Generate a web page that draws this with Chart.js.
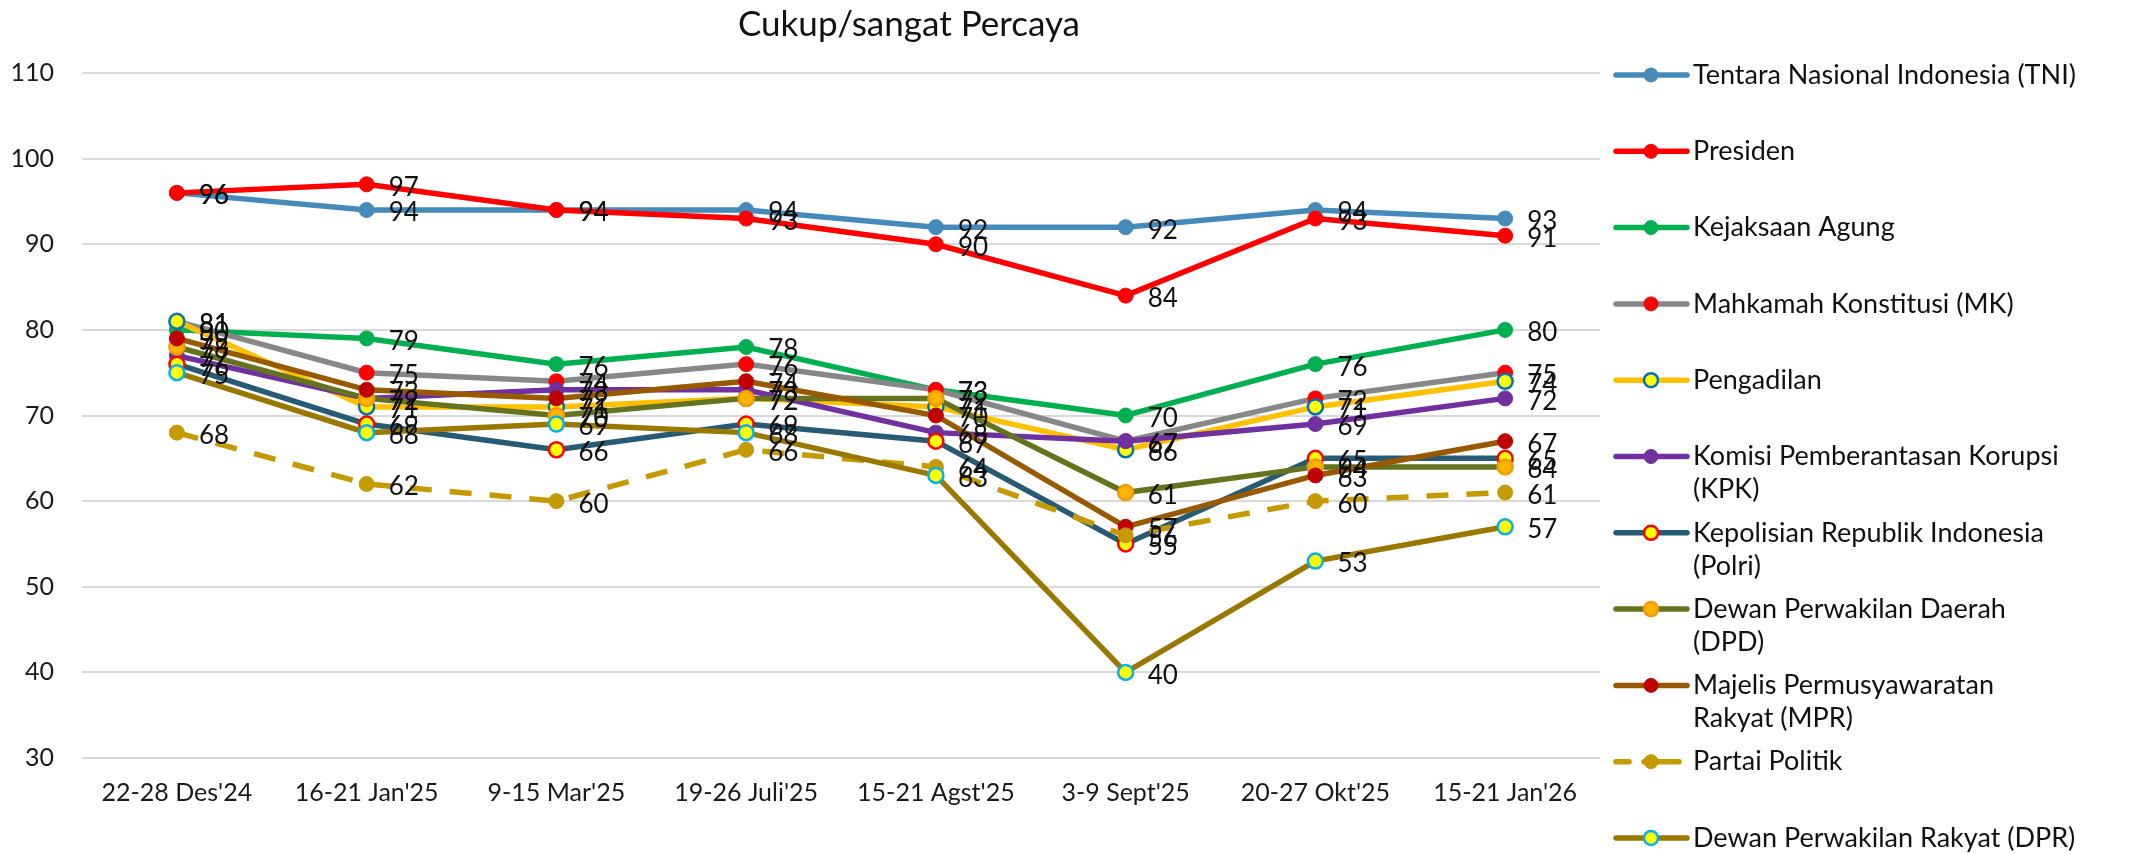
<!DOCTYPE html>
<html>
<head>
<meta charset="utf-8">
<script src="https://cdn.jsdelivr.net/npm/chart.js@4.4.1/dist/chart.umd.min.js"></script>
<style>
  html, body { margin: 0; padding: 0; background: #fff; }
  #wrap { width: 2133px; height: 854px; }
</style>
</head>
<body>
<div id="wrap"><canvas id="line" width="2133" height="854"></canvas></div>
<script>
const chartTitle = "Cukup/sangat Percaya";
const periods = ["22-28 Des'24", "16-21 Jan'25", "9-15 Mar'25", "19-26 Juli'25", "15-21 Agst'25", "3-9 Sept'25", "20-27 Okt'25", "15-21 Jan'26"];
const yMin = 30;
const yMax = 110;
const yStep = 10;

const tni        = [96, 94, 94, 94, 92, 92, 94, 93];
const presiden   = [96, 97, 94, 93, 90, 84, 93, 91];
const kejaksaan  = [80, 79, 76, 78, 73, 70, 76, 80];
const mk         = [81, 75, 74, 76, 73, 67, 72, 75];
const pengadilan = [81, 71, 71, 72, 71, 66, 71, 74];
const kpk        = [77, 72, 73, 73, 68, 67, 69, 72];
const polri      = [76, 69, 66, 69, 67, 55, 65, 65];
const dpd        = [78, 72, 70, 72, 72, 61, 64, 64];
const mpr        = [79, 73, 72, 74, 70, 57, 63, 67];
const partai     = [68, 62, 60, 66, 64, 56, 60, 61];
const dpr        = [75, 68, 69, 68, 63, 40, 53, 57];

const seriesNames = [
  "Tentara Nasional Indonesia (TNI)",
  "Presiden",
  "Kejaksaan Agung",
  "Mahkamah Konstitusi (MK)",
  "Pengadilan",
  "Komisi Pemberantasan Korupsi\n(KPK)",
  "Kepolisian Republik Indonesia\n(Polri)",
  "Dewan Perwakilan Daerah\n(DPD)",
  "Majelis Permusyawaratan\nRakyat (MPR)",
  "Partai Politik",
  "Dewan Perwakilan Rakyat (DPR)"
];

const FONT = "Lato, 'Open Sans', sans-serif";

function series(i, data, line, fill, edge, dash) {
  return {
    label: seriesNames[i],
    data: data,
    borderColor: line,
    backgroundColor: line,
    borderWidth: 5.5,
    borderDash: dash || [],
    pointBackgroundColor: fill,
    pointBorderColor: edge || fill,
    pointBorderWidth: edge ? 2.5 : 1,
    pointRadius: 7.5,
    pointHoverRadius: 7.5,
    tension: 0,
    fill: false,
    order: 20 - i
  };
}

const datasets = [
  series(0, tni, "#468AB9", "#468AB9"),
  series(1, presiden, "#FF0000", "#FF0000"),
  series(2, kejaksaan, "#00B050", "#00B050"),
  series(3, mk, "#878787", "#FF0000"),
  series(4, pengadilan, "#FFC000", "#FFFF00", "#0070C0"),
  series(5, kpk, "#7030A0", "#7030A0"),
  series(6, polri, "#275A73", "#FFFF00", "#FF0000"),
  series(7, dpd, "#65731F", "#FFB400", "#F39A00"),
  series(8, mpr, "#985A00", "#C00000"),
  series(9, partai, "#C49A00", "#C49A00", null, [22, 18]),
  series(10, dpr, "#9A7800", "#FFFF00", "#00B0F0")
];

// numbers next to each point
const valueLabels = {
  id: "valueLabels",
  afterDatasetsDraw(chart) {
    const ctx = chart.ctx;
    ctx.save();
    ctx.font = "26px " + FONT;
    ctx.fillStyle = "#111";
    ctx.textAlign = "left";
    ctx.textBaseline = "middle";
    chart.data.datasets.forEach((ds, i) => {
      const meta = chart.getDatasetMeta(i);
      meta.data.forEach((pt, j) => {
        ctx.fillText(String(ds.data[j]), pt.x + 22, pt.y + 3);
      });
    });
    ctx.restore();
  }
};

// title + legend on the right, drawn by hand so names can wrap
const sideLegend = {
  id: "sideLegend",
  afterDraw(chart) {
    const ctx = chart.ctx;
    ctx.save();
    ctx.fillStyle = "#111";
    ctx.font = "35px " + FONT;
    ctx.textAlign = "center";
    ctx.textBaseline = "middle";
    ctx.fillText(chartTitle, 909, 25);

    ctx.font = "27px " + FONT;
    ctx.textAlign = "left";
    const x0 = 1616, x1 = 1687, xm = 1651, tx = 1693;
    chart.data.datasets.forEach((ds, i) => {
      const y = 75 + i * 76.3;
      ctx.strokeStyle = ds.borderColor;
      ctx.lineWidth = 5.5;
      ctx.lineCap = "round";
      ctx.beginPath();
      if (ds.borderDash.length) {
        ctx.moveTo(x0, y); ctx.lineTo(x0 + 13, y);
        ctx.moveTo(x0 + 28, y); ctx.lineTo(x1 - 8, y);
      } else {
        ctx.moveTo(x0, y); ctx.lineTo(x1, y);
      }
      ctx.stroke();
      ctx.beginPath();
      ctx.arc(xm, y, 7, 0, Math.PI * 2);
      ctx.fillStyle = ds.pointBackgroundColor;
      ctx.fill();
      ctx.lineWidth = ds.pointBorderWidth;
      ctx.strokeStyle = ds.pointBorderColor;
      ctx.stroke();
      ctx.fillStyle = "#111";
      ds.label.split("\n").forEach((t, k) => {
        ctx.fillText(t, tx, y + k * 33);
      });
    });
    ctx.restore();
  }
};

const ctx = document.getElementById("line").getContext("2d");
const myChart = new Chart(ctx, {
  type: "line",
  data: { labels: periods, datasets: datasets },
  options: {
    responsive: false,
    animation: false,
    layout: { padding: { top: 73, right: 533, bottom: 0, left: 0 } },
    plugins: {
      legend: { display: false },
      title: { display: false },
      tooltip: { enabled: false }
    },
    scales: {
      x: {
        offset: true,
        grid: { display: false, drawTicks: false },
        border: { display: false },
        ticks: {
          font: { family: FONT, size: 25 },
          color: "#1a1a1a",
          padding: 20,
          maxRotation: 0,
          autoSkip: false
        },
        afterFit: (s) => { s.height = 96; }
      },
      y: {
        min: yMin,
        max: yMax,
        grid: { color: "#D9D9D9", lineWidth: 2, drawTicks: false },
        border: { display: false },
        ticks: {
          stepSize: yStep,
          font: { family: FONT, size: 25 },
          color: "#1a1a1a",
          padding: 28
        },
        afterFit: (s) => { s.width = 82; }
      }
    }
  },
  plugins: [valueLabels, sideLegend]
});
</script>
</body>
</html>
